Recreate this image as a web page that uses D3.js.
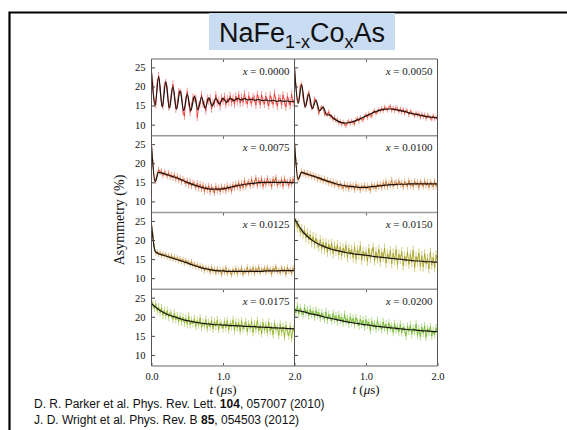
<!DOCTYPE html>
<html>
<head>
<meta charset="utf-8">
<script src="https://cdnjs.cloudflare.com/ajax/libs/d3/7.8.5/d3.min.js"></script>
<style>
  body { margin: 0; background: #fff; }
  svg { display: block; }
</style>
</head>
<body>
<div id="chart"></div>
<script>
// Co content of each panel, row by row (left, right)
var dopings = ["0.0000", "0.0050", "0.0075", "0.0100", "0.0125", "0.0150", "0.0175", "0.0200"];
var traceColors = ["#e8302a", "#e23a20", "#d04a1e", "#cc6c1e", "#b8801c", "#a39d16", "#88ae18", "#6ab41e"];
var errorBars = [1.0, 0.6, 0.8, 0.8, 0.7, 1.2, 1.0, 1.0];
var yTicks = [10, 15, 20, 25];
var xTicks = [0, 1, 2];
var dataStep = 0.02; // us between data points
var fitStep = 0.05;  // us between fit points

// asymmetry (%), t = 0 .. 2 us
var asym0000 = [23.9, 20.2, 15.9, 15.2, 20.9, 22.8, 19.4, 15.8, 14.9, 20.3,
  21.0, 19.5, 14.6, 15.5, 18.5, 20.6, 17.4, 14.1, 15.3, 18.6,
  18.5, 17.8, 13.5, 12.2, 16.4, 18.7, 15.9, 13.2, 14.8, 17.2,
  16.8, 16.9, 11.9, 14.9, 15.5, 17.9, 15.4, 15.3, 13.6, 16.9,
  16.2, 17.0, 14.1, 15.8, 15.4, 17.8, 15.7, 16.3, 14.8, 17.1,
  16.1, 17.4, 15.2, 16.8, 15.9, 17.6, 15.8, 16.9, 15.3, 17.5,
  16.0, 17.9, 15.6, 17.2, 15.8, 18.1, 16.3, 15.4, 17.6, 16.2,
  15.6, 17.3, 16.8, 15.1, 17.9, 16.7, 15.2, 17.8, 16.1, 15.4,
  17.5, 16.0, 14.9, 17.7, 16.4, 15.3, 18.2, 16.3, 14.8, 17.0,
  16.9, 15.1, 17.8, 16.0, 14.6, 17.4, 16.2, 15.0, 18.0, 15.7,
  16.5];
var asym0050 = [24.9, 20.2, 16.3, 16.1, 20.1, 20.7, 17.2, 14.9, 15.4, 17.5,
  18.5, 15.5, 14.3, 14.5, 16.8, 16.3, 14.9, 12.9, 14.2, 14.6,
  14.5, 12.7, 12.8, 12.6, 13.4, 12.1, 12.2, 11.3, 11.9, 11.0,
  11.3, 10.4, 10.9, 10.1, 10.7, 10.2, 9.7, 10.6, 10.9, 10.3,
  11.0, 10.5, 10.2, 11.3, 11.6, 10.9, 11.9, 11.4, 11.2, 12.1,
  12.6, 11.8, 12.9, 12.4, 12.2, 13.3, 13.7, 12.9, 13.4, 14.0,
  13.5, 14.3, 13.6, 14.6, 14.2, 13.8, 14.5, 14.9, 13.7, 14.4,
  13.6, 14.5, 14.1, 13.4, 14.2, 13.3, 14.0, 12.9, 13.8, 13.5,
  12.6, 13.5, 13.2, 12.8, 12.3, 13.1, 12.5, 12.9, 11.9, 12.8,
  12.1, 12.6, 11.6, 12.5, 12.2, 11.8, 11.4, 12.4, 11.5, 12.0,
  11.3];
var asym0075 = [24.6, 20.1, 15.6, 15.3, 17.2, 18.3, 17.6, 17.9, 16.8, 17.6,
  17.3, 16.6, 17.5, 16.4, 16.9, 16.2, 17.0, 15.8, 16.6, 15.5,
  16.2, 15.1, 15.9, 15.4, 14.6, 15.5, 14.3, 15.2, 14.0, 14.9,
  14.5, 13.6, 14.8, 13.4, 14.5, 13.2, 14.3, 12.6, 13.9, 13.0,
  14.1, 12.4, 13.8, 13.1, 12.2, 14.0, 12.8, 13.6, 12.5, 13.9,
  13.0, 13.8, 12.7, 14.2, 13.1, 13.9, 12.6, 14.4, 13.5, 14.6,
  13.7, 14.9, 13.4, 14.8, 13.6, 15.5, 13.9, 14.7, 15.2, 14.0,
  15.8, 14.3, 14.9, 16.2, 14.1, 15.6, 14.6, 16.0, 13.9, 15.4,
  14.4, 16.1, 14.7, 15.3, 13.8, 15.9, 14.9, 16.3, 14.2, 15.1,
  14.6, 15.8, 13.9, 16.0, 14.8, 15.2, 14.1, 15.7, 14.5, 15.9,
  14.8];
var asym0100 = [25.4, 20.6, 16.0, 15.9, 17.1, 17.9, 17.3, 17.6, 16.9, 17.4,
  16.8, 17.2, 16.5, 16.9, 16.3, 16.7, 15.8, 16.4, 15.6, 16.1,
  15.3, 16.0, 15.1, 15.6, 14.8, 15.4, 14.5, 15.2, 14.2, 14.9,
  14.6, 13.8, 14.7, 14.0, 13.4, 14.6, 13.6, 14.3, 13.2, 14.4,
  13.7, 14.2, 13.0, 14.5, 13.6, 13.9, 12.9, 14.1, 13.4, 14.3,
  13.2, 14.0, 13.6, 12.8, 14.4, 13.7, 14.1, 13.3, 14.6, 13.8,
  14.5, 13.6, 14.9, 13.9, 15.3, 13.8, 14.7, 14.2, 15.6, 13.9,
  14.8, 15.1, 14.0, 15.4, 14.3, 14.9, 13.7, 15.2, 14.6, 13.9,
  15.5, 14.1, 14.8, 13.8, 15.3, 14.4, 15.0, 13.6, 15.2, 14.7,
  13.9, 15.4, 14.2, 15.0, 13.7, 15.1, 14.5, 13.8, 15.3, 14.0,
  14.6];
var asym0125 = [24.1, 21.3, 18.0, 16.6, 16.9, 16.2, 16.7, 15.9, 16.4, 15.8,
  16.3, 15.5, 16.0, 15.2, 15.9, 15.0, 15.6, 14.8, 15.4, 14.5,
  15.1, 14.3, 14.9, 13.9, 14.7, 14.0, 14.2, 13.5, 14.4, 13.2,
  13.8, 12.9, 13.6, 12.7, 13.3, 12.4, 13.1, 11.9, 12.8, 12.2,
  12.6, 11.5, 12.9, 11.8, 12.4, 11.3, 12.5, 11.6, 12.2, 10.9,
  12.4, 11.5, 12.8, 11.2, 12.1, 11.7, 10.8, 12.3, 11.4, 12.6,
  11.1, 12.2, 11.6, 12.7, 10.9, 12.0, 11.5, 12.9, 11.3, 12.4,
  11.7, 12.8, 11.2, 12.5, 11.8, 13.0, 11.4, 12.3, 11.9, 12.7,
  11.5, 12.9, 11.8, 12.4, 11.0, 12.6, 11.9, 13.1, 11.6, 12.2,
  11.3, 12.8, 11.7, 12.5, 10.9, 12.9, 11.8, 12.3, 11.2, 12.7,
  11.8];
var asym0150 = [25.7, 24.5, 23.2, 24.1, 22.0, 23.0, 21.4, 22.6, 20.5, 21.9,
  20.1, 21.4, 19.3, 20.9, 18.8, 20.5, 19.0, 18.2, 20.1, 17.6,
  19.4, 17.5, 19.3, 16.8, 18.9, 17.2, 19.1, 16.4, 18.5, 17.0,
  18.8, 16.1, 18.2, 15.9, 17.9, 16.5, 18.6, 15.4, 17.8, 16.2,
  17.5, 15.3, 18.2, 14.9, 17.4, 16.0, 18.5, 14.7, 17.1, 15.6,
  16.9, 14.4, 17.8, 15.2, 16.6, 18.1, 14.5, 16.9, 15.0, 17.6,
  14.2, 16.8, 15.5, 17.9, 13.9, 16.4, 15.1, 17.2, 13.8, 16.6,
  14.6, 17.5, 13.5, 16.3, 14.9, 17.0, 13.2, 15.8, 14.4, 16.9,
  13.6, 16.2, 14.1, 17.3, 12.8, 15.7, 14.3, 16.6, 13.1, 15.9,
  12.9, 16.4, 13.7, 15.2, 12.4, 16.8, 13.4, 15.5, 12.7, 16.1,
  13.9];
var asym0175 = [24.3, 23.0, 22.2, 23.4, 21.5, 22.6, 21.0, 22.3, 20.4, 21.7,
  20.2, 21.6, 19.8, 21.1, 20.5, 19.3, 21.0, 19.2, 20.3, 18.7,
  20.1, 18.6, 19.9, 18.3, 19.6, 18.0, 20.2, 17.9, 19.1, 18.2,
  19.5, 17.4, 19.0, 17.8, 19.7, 17.2, 18.5, 17.6, 19.3, 16.9,
  18.6, 17.3, 19.1, 16.8, 18.7, 17.5, 19.2, 16.6, 18.4, 17.9,
  16.9, 18.8, 17.1, 19.0, 16.5, 18.3, 17.4, 19.2, 16.4, 18.6,
  17.0, 18.5, 16.2, 18.9, 16.8, 17.6, 18.7, 16.1, 18.2, 16.9,
  18.8, 15.9, 18.1, 16.7, 19.0, 16.3, 17.8, 15.6, 18.5, 16.4,
  17.9, 15.8, 18.6, 16.2, 17.5, 15.3, 18.3, 16.6, 17.2, 15.1,
  18.0, 15.9, 17.4, 14.6, 17.8, 16.1, 15.0, 17.6, 14.3, 16.8,
  15.9];
var asym0200 = [22.6, 21.0, 22.9, 20.7, 22.3, 21.2, 20.5, 22.4, 20.9, 21.8,
  20.2, 22.0, 20.6, 21.5, 19.9, 21.7, 20.3, 21.2, 19.6, 21.0,
  20.2, 19.4, 21.3, 19.1, 20.6, 19.8, 18.9, 20.9, 19.2, 20.3,
  18.7, 20.5, 19.0, 19.9, 18.4, 20.6, 18.8, 19.5, 18.1, 20.0,
  18.5, 19.6, 17.9, 19.8, 18.6, 17.6, 19.4, 18.0, 19.1, 17.3,
  19.3, 17.8, 18.6, 16.4, 18.9, 17.4, 18.2, 16.8, 19.0, 17.2,
  17.9, 16.6, 18.7, 17.0, 18.1, 16.3, 18.4, 16.9, 17.6, 15.9,
  18.2, 16.5, 17.4, 16.0, 18.0, 15.8, 17.3, 16.6, 14.9, 17.5,
  16.2, 17.8, 15.4, 17.0, 16.1, 18.1, 15.2, 16.8, 14.8, 17.3,
  15.7, 17.6, 14.6, 16.9, 15.9, 17.4, 14.9, 16.4, 15.3, 17.1,
  15.8];

// fitted curves (black lines), t = 0 .. 2 us
var fit0000 = [23.6, 15.0, 22.6, 14.6, 21.3, 14.3, 19.9, 14.0, 18.9, 13.7,
  18.0, 13.7, 17.5, 13.9, 17.2, 14.3, 17.0, 14.9, 16.9, 15.4,
  16.9, 15.9, 16.9, 16.3, 16.9, 16.5, 16.8, 16.5, 16.7, 16.4,
  16.6, 16.3, 16.5, 16.2, 16.4, 16.1, 16.3, 16.1, 16.2, 16.0,
  16.2];
var fit0050 = [24.8, 15.6, 20.4, 14.6, 18.0, 14.2, 16.4, 13.6, 14.6, 12.6,
  12.5, 11.6, 11.0, 10.6, 10.4, 10.5, 10.7, 11.0, 11.4, 11.8,
  12.3, 12.7, 13.2, 13.5, 13.8, 14.0, 14.1, 14.1, 14.0, 13.8,
  13.6, 13.4, 13.1, 12.9, 12.7, 12.5, 12.3, 12.1, 12.0, 11.9,
  11.8];
var fit0075 = [24.5, 15.2, 17.6, 17.4, 17.1, 16.8, 16.5, 16.2, 15.8, 15.4,
  15.0, 14.6, 14.3, 14.0, 13.7, 13.5, 13.3, 13.2, 13.2, 13.2,
  13.3, 13.5, 13.7, 13.9, 14.1, 14.3, 14.5, 14.6, 14.7, 14.8,
  14.9, 15.0, 15.0, 15.0, 15.0, 15.0, 15.0, 15.0, 15.0, 14.9,
  14.9];
var fit0100 = [25.3, 15.8, 17.6, 17.3, 17.0, 16.7, 16.4, 16.1, 15.7, 15.4,
  15.1, 14.8, 14.5, 14.3, 14.1, 14.0, 13.9, 13.8, 13.7, 13.7,
  13.7, 13.8, 13.9, 14.0, 14.1, 14.2, 14.3, 14.4, 14.4, 14.5,
  14.5, 14.5, 14.6, 14.6, 14.6, 14.6, 14.6, 14.6, 14.6, 14.6,
  14.6];
var fit0125 = [24.0, 17.1, 16.4, 16.1, 15.8, 15.5, 15.2, 14.9, 14.6, 14.3,
  14.0, 13.6, 13.3, 13.0, 12.7, 12.5, 12.3, 12.1, 12.0, 11.9,
  11.9, 11.8, 11.8, 11.8, 11.8, 11.8, 11.8, 11.8, 11.8, 11.8,
  11.8, 11.8, 11.9, 11.9, 11.9, 11.9, 12.0, 12.0, 12.0, 12.0,
  12.0];
var fit0150 = [25.6, 24.0, 22.6, 21.5, 20.6, 19.9, 19.3, 18.8, 18.4, 18.0,
  17.7, 17.4, 17.2, 17.0, 16.8, 16.6, 16.5, 16.3, 16.2, 16.1,
  16.0, 15.9, 15.7, 15.6, 15.5, 15.4, 15.3, 15.2, 15.1, 15.0,
  14.9, 14.8, 14.7, 14.6, 14.5, 14.5, 14.4, 14.3, 14.3, 14.2,
  14.2];
var fit0175 = [23.4, 22.6, 21.9, 21.3, 20.8, 20.4, 20.1, 19.8, 19.5, 19.2,
  19.0, 18.8, 18.6, 18.5, 18.3, 18.2, 18.1, 18.0, 17.9, 17.9,
  17.8, 17.8, 17.7, 17.7, 17.6, 17.6, 17.5, 17.5, 17.4, 17.4,
  17.3, 17.3, 17.2, 17.2, 17.1, 17.1, 17.0, 17.0, 16.9, 16.9,
  16.8];
var fit0200 = [21.8, 21.6, 21.4, 21.2, 20.9, 20.7, 20.5, 20.3, 20.0, 19.8,
  19.6, 19.4, 19.2, 19.0, 18.8, 18.6, 18.5, 18.3, 18.2, 18.0,
  17.9, 17.8, 17.6, 17.5, 17.4, 17.3, 17.2, 17.1, 17.0, 16.9,
  16.8, 16.7, 16.6, 16.6, 16.5, 16.4, 16.3, 16.3, 16.2, 16.1,
  16.1];

var asymData = [asym0000, asym0050, asym0075, asym0100, asym0125, asym0150, asym0175, asym0200];
var fitData = [fit0000, fit0050, fit0075, fit0100, fit0125, fit0150, fit0175, fit0200];

var citations = [
  { pre: "D. R. Parker et al. Phys. Rev. Lett. ", vol: "104", post: ", 057007 (2010)" },
  { pre: "J. D. Wright et al. Phys. Rev. B ", vol: "85", post: ", 054503 (2012)" }
];

var serif = "'Liberation Serif', 'Times New Roman', serif";
var sans = "'Liberation Sans', Arial, sans-serif";

var width = 567, height = 430;
var plotLeft = 151.5, plotTop = 59, panelW = 143, panelH = 76.75;

var svg = d3.select("#chart")
  .append("svg")
  .attr("width", width)
  .attr("height", height);

svg.append("rect").attr("width", width).attr("height", height).attr("fill", "#fff");

// slide frame
svg.append("path")
  .attr("d", "M9.5," + height + "V12.5H" + width)
  .attr("fill", "none")
  .attr("stroke", "#000")
  .attr("stroke-width", 2.2);

// title
svg.append("rect")
  .attr("x", 209).attr("y", 13)
  .attr("width", 186).attr("height", 37)
  .attr("fill", "#c9dcf1");

var title = svg.append("text")
  .attr("x", 302).attr("y", 42)
  .attr("text-anchor", "middle")
  .style("font-family", sans)
  .style("font-size", "27px")
  .attr("fill", "#111");
title.append("tspan").text("NaFe");
title.append("tspan").attr("dy", 6).style("font-size", "18px").text("1-x");
title.append("tspan").attr("dy", -6).text("Co");
title.append("tspan").attr("dy", 6).style("font-size", "18px").text("x");
title.append("tspan").attr("dy", -6).text("As");

var x = d3.scaleLinear().domain([0, 2]).range([0, panelW]);
var y = d3.scaleLinear().domain([7.1, 27.2]).range([panelH, 0]);

var dataLine = d3.line()
  .x(function (d, i) { return x(i * dataStep); })
  .y(function (d) { return y(d); });

var fitLine = d3.line()
  .curve(d3.curveMonotoneX)
  .x(function (d, i) { return x(i * fitStep); })
  .y(function (d) { return y(d); });

svg.append("defs").append("clipPath")
  .attr("id", "panel-clip")
  .append("rect")
  .attr("width", panelW).attr("height", panelH);

dopings.forEach(function (dop, p) {
  var col = p % 2, row = Math.floor(p / 2);
  var g = svg.append("g")
    .attr("transform", "translate(" + (plotLeft + col * panelW) + "," + (plotTop + row * panelH) + ")");

  var color = traceColors[p];
  var light = d3.interpolateRgb(color, "#fff")(0.5);
  var err = errorBars[p];

  var marks = g.append("g").attr("clip-path", "url(#panel-clip)");

  // error bars
  marks.selectAll("line.err")
    .data(asymData[p])
    .enter()
    .append("line")
    .attr("class", "err")
    .attr("x1", function (d, i) { return x(i * dataStep); })
    .attr("x2", function (d, i) { return x(i * dataStep); })
    .attr("y1", function (d) { return y(d - err); })
    .attr("y2", function (d) { return y(d + err); })
    .attr("stroke", light)
    .attr("stroke-width", 1);

  // data
  marks.append("path")
    .datum(asymData[p])
    .attr("d", dataLine)
    .attr("fill", "none")
    .attr("stroke", color)
    .attr("stroke-width", 0.8);

  // fit
  marks.append("path")
    .datum(fitData[p])
    .attr("d", fitLine)
    .attr("fill", "none")
    .attr("stroke", "#1c1410")
    .attr("stroke-width", 1.2);

  // y axis, ticks pointing in
  var yAxis = g.append("g")
    .call(d3.axisLeft(y).tickValues(yTicks).tickSize(-3.5).tickPadding(6)
      .tickFormat(col === 0 ? d3.format("d") : function () { return ""; }));
  yAxis.select(".domain").remove();
  yAxis.selectAll("line").attr("stroke", "#444");
  yAxis.selectAll("text").style("font-family", serif).style("font-size", "10.5px").attr("fill", "#111");

  // x tick at the top of the panel
  var topAxis = g.append("g")
    .call(d3.axisTop(x).tickValues([1]).tickSize(-3).tickFormat(function () { return ""; }));
  topAxis.select(".domain").remove();
  topAxis.selectAll("line").attr("stroke", "#666");

  // doping label
  var lab = g.append("text")
    .attr("x", panelW - 5)
    .attr("y", 15.5)
    .attr("text-anchor", "end")
    .style("font-family", serif)
    .style("font-size", "11px")
    .attr("fill", "#222");
  lab.append("tspan").style("font-style", "italic").text("x");
  lab.append("tspan").text(" = " + dop);

  // bottom row: time axis
  if (row === 3) {
    var xAxis = g.append("g")
      .attr("transform", "translate(0," + panelH + ")")
      .call(d3.axisBottom(x).tickValues(col === 0 ? xTicks : xTicks.slice(1))
        .tickSize(-3).tickPadding(7).tickFormat(d3.format(".1f")));
    xAxis.select(".domain").remove();
    xAxis.selectAll("line").attr("stroke", "#666");
    xAxis.selectAll("text").style("font-family", serif).style("font-size", "10.5px").attr("fill", "#111");

    var tl = g.append("text")
      .attr("x", x(1))
      .attr("y", panelH + 28)
      .attr("text-anchor", "middle")
      .style("font-family", serif)
      .style("font-size", "13px")
      .attr("fill", "#111");
    tl.append("tspan").style("font-style", "italic").text("t");
    tl.append("tspan").text(" (");
    tl.append("tspan").style("font-style", "italic").text("\u03bc");
    tl.append("tspan").text("s)");
  }
});

// panel frame
var frame = svg.append("g");
d3.range(5).forEach(function (r) {
  frame.append("line")
    .attr("x1", plotLeft).attr("x2", plotLeft + 2 * panelW)
    .attr("y1", plotTop + r * panelH).attr("y2", plotTop + r * panelH)
    .attr("stroke", "#9a9a9a")
    .attr("stroke-width", 1.3);
});
d3.range(3).forEach(function (c) {
  frame.append("line")
    .attr("x1", plotLeft + c * panelW).attr("x2", plotLeft + c * panelW)
    .attr("y1", plotTop).attr("y2", plotTop + 4 * panelH)
    .attr("stroke", "#555")
    .attr("stroke-width", 1);
});

// y axis title
svg.append("text")
  .attr("transform", "translate(124,220) rotate(-90)")
  .attr("text-anchor", "middle")
  .style("font-family", serif)
  .style("font-size", "14px")
  .attr("fill", "#111")
  .text("Asymmetry (%)");

// references
citations.forEach(function (c, i) {
  var t = svg.append("text")
    .attr("x", 34)
    .attr("y", 408 + i * 16)
    .style("font-family", sans)
    .style("font-size", "12px")
    .attr("fill", "#111");
  t.append("tspan").text(c.pre);
  t.append("tspan").style("font-weight", "bold").text(c.vol);
  t.append("tspan").text(c.post);
});
</script>
</body>
</html>
